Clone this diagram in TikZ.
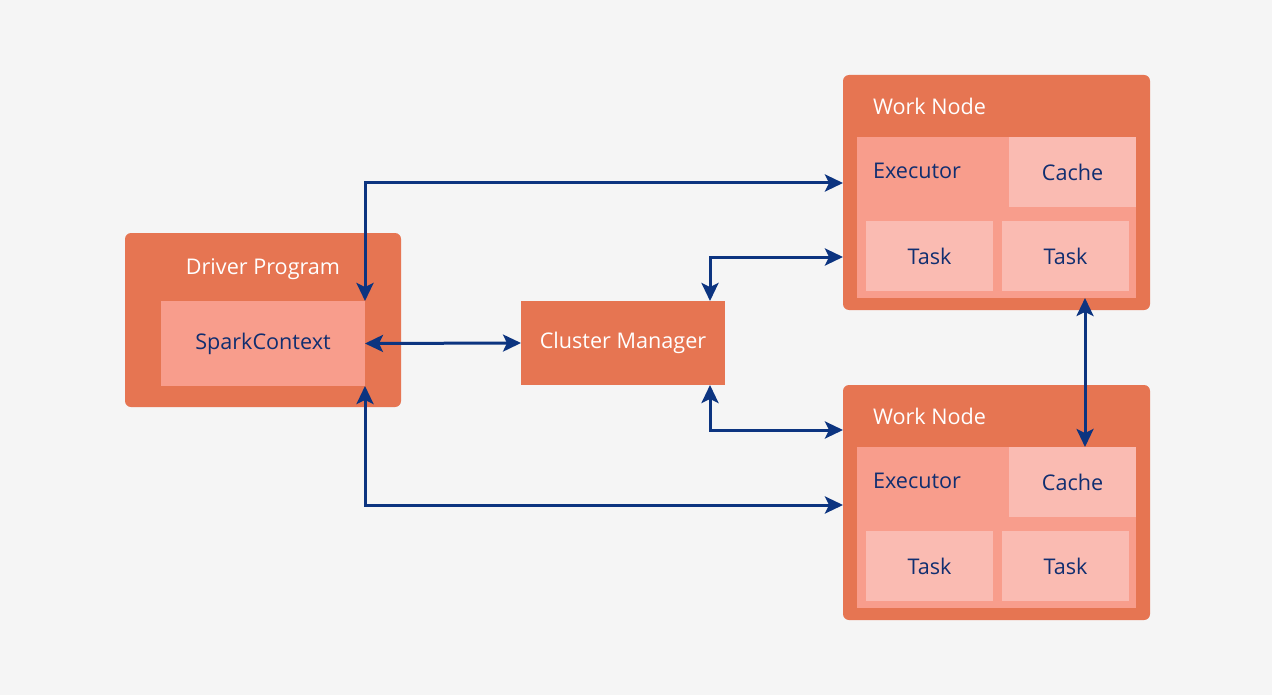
\documentclass[tikz,border=0pt]{standalone}
\usepackage{fontspec}
\setmainfont{Open Sans}
\usetikzlibrary{arrows.meta,positioning}
\definecolor{pagebg}{RGB}{245,245,245}
\definecolor{boxorange}{RGB}{230,117,82}
\definecolor{boxsalmon}{RGB}{248,157,140}
\definecolor{boxlight}{RGB}{250,187,178}
\definecolor{textnavy}{RGB}{16,46,112}
\definecolor{linknavy}{RGB}{12,52,128}
\tikzset{
  every node/.style={outer sep=0mm,inner sep=0mm,font=\fontsize{10.8}{12}\selectfont},
  >={Stealth[length=9pt,width=8.5pt,inset=2pt]}
}
\tikzset{outerbox/.style 2 args={
    fill=boxorange,
    rounded corners=3pt,
    minimum width=#1,
    minimum height=#2,
    anchor=north west
  }}
\tikzset{part/.style n args={3}{
    fill=#1,
    minimum width=#2,
    minimum height=#3,
    anchor=north west,
    text=textnavy
  }}
\tikzset{title/.style={text=white}}
\tikzset{link/.style={<->,draw=linknavy,line width=1.5pt}}

\begin{document}
\begin{tikzpicture}[x=0.5pt,y=-0.5pt]

  \fill [pagebg] (0,0) rectangle (1272,695);
  \useasboundingbox (0,0) rectangle (1272,695);

  % driver side
  \node (Driver) [outerbox={138pt}{87pt}] at (125,233) {};
  \node (DriverTitle) [title] at (263,269) {Driver Program};
  \node (Spark) [part={boxsalmon}{102pt}{42.5pt}] at (161,301) {SparkContext};

  \node (Cluster) [outerbox={102pt}{42pt},rounded corners=0pt,title] at (521,301) {Cluster Manager};

  % the two work nodes
  \foreach \i/\dy in {1/0,2/310} {
    \node (Work\i) [outerbox={153.5pt}{117.5pt}] at (843,75+\dy) {};
    \node (WorkTitle\i) [title,anchor=west] at (873,106+\dy) {Work Node};
    \node (Exec\i) [part={boxsalmon}{139.5pt}{80.5pt}] at (857,137+\dy) {};
    \node (ExecLabel\i) [text=textnavy,anchor=west] at (873,171+\dy) {Executor};
    \node (Cache\i) [part={boxlight}{63.5pt}{35pt}] at (1009,137+\dy) {Cache};
    \node (TaskA\i) [part={boxlight}{63.5pt}{35pt}] at (866,221+\dy) {Task};
    \node (TaskB\i) [part={boxlight}{63.5pt}{35pt}] at (1002,221+\dy) {Task};
  }

  \draw [link] (Spark.north east) |- ([yshift=4.75pt] Work1.west);
  \draw [link] (Spark.east) -- (Cluster.west);
  \draw [link] (Spark.south east) |- ([yshift=-1.25pt] Work2.west);
  \draw [link] ([xshift=43.5pt] Cluster.north) |- ([yshift=-32.25pt] Work1.west);
  \draw [link] ([xshift=43.5pt] Cluster.south) |- ([yshift=36.25pt] Work2.west);
  \draw [link] ([xshift=6.25pt] Cache2.north |- Exec1.south) -- ([xshift=6.25pt] Cache2.north);
\end{tikzpicture}
\end{document}
